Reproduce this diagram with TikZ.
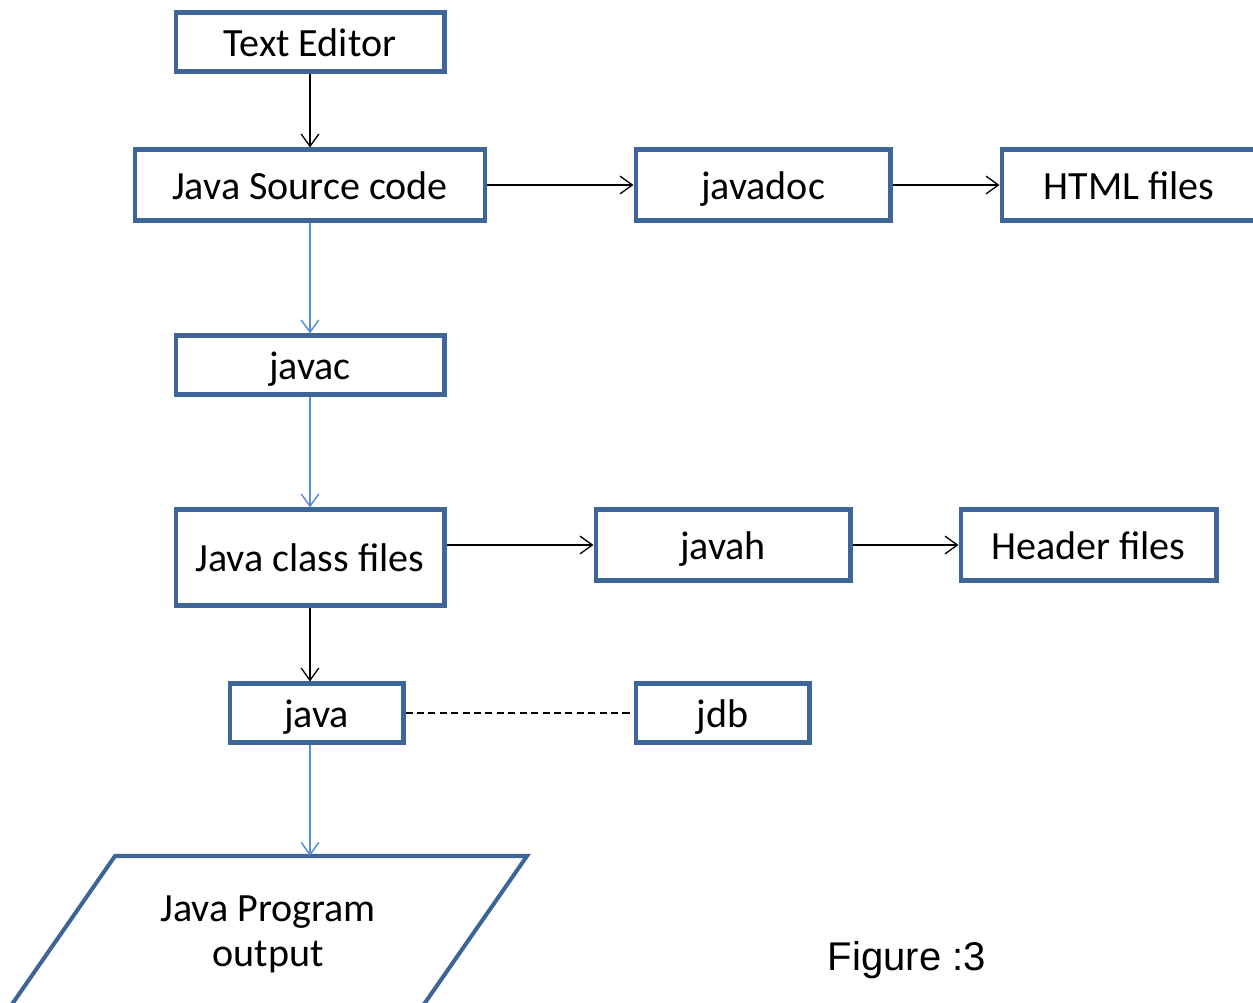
\documentclass[tikz,border=0pt]{standalone}
\usepackage{fontspec}
\setmainfont{Carlito}
\newfontfamily\figfont{Liberation Sans}
\usetikzlibrary{arrows.meta}
\definecolor{boxblue}{HTML}{3E6597}
\definecolor{arrblue}{RGB}{91,143,212}
\begin{document}
\begin{tikzpicture}[x=0.02cm,y=-0.02cm,
  box/.style={draw=boxblue,line width=2.3pt,fill=white,rectangle,inner sep=0pt,
    text height=16pt,text depth=0pt,
    font=\fontsize{22.8}{27}\selectfont},
  blackarr/.style={draw=black,line width=0.75pt,-{Straight Barb[length=7pt,width=10pt]}},
  bluearr/.style={draw=arrblue,line width=0.85pt,-{Straight Barb[length=7pt,width=10pt]}},
  dashline/.style={draw=black,line width=0.75pt,dash pattern=on 4pt off 2.5pt}]
\clip (0,0) rectangle (1253,1003);
\fill[white] (0,0) rectangle (1253,1003);

\node[box,minimum width=5.38cm,minimum height=1.18cm] (te) at (310,42) {Text Editor};
\node[box,minimum width=7.02cm,minimum height=1.42cm] (jsc) at (310,185) {Java Source code};
\node[box,minimum width=5.10cm,minimum height=1.42cm] (jdoc) at (763,185) {javadoc};
\node[box,minimum width=5.10cm,minimum height=1.42cm] (html) at (1129,185) {HTML files};
\node[box,minimum width=5.38cm,minimum height=1.18cm] (javac) at (310,365) {javac};
\node[box,minimum width=5.38cm,minimum height=1.92cm] (jcf) at (310,557.5) {Java class files};
\node[box,minimum width=5.10cm,minimum height=1.42cm] (javah) at (723,545) {javah};
\node[box,minimum width=5.12cm,minimum height=1.42cm] (hdr) at (1088.5,545) {Header files};
\node[box,minimum width=3.48cm,minimum height=1.18cm] (java) at (316.5,713) {java};
\node[box,minimum width=3.48cm,minimum height=1.18cm] (jdb) at (722.5,713) {jdb};

% output parallelogram
\draw[boxblue,line width=2.3pt,line join=miter] (115,856) -- (527,856) -- (420,1010) -- (8,1010) -- cycle;
\coordinate (outtop) at (310,856);
\node[align=center,inner sep=0pt,font=\fontsize{22.8}{25.5}\selectfont] (out) at (268,934) {Java Program\\output};

\node[inner sep=0pt,font=\figfont\fontsize{22.8}{26}\selectfont] (fig) at (907,960) {Figure :3};

% connectors
\draw[blackarr] (te.south) -- (jsc.north);
\draw[blackarr] (jsc.east) -- (jdoc.west);
\draw[blackarr] (jdoc.east) -- (html.west);
\draw[bluearr] (jsc.south) -- (javac.north);
\draw[bluearr] (javac.south) -- (jcf.north);
\draw[blackarr] (jcf.east |- javah.west) -- (javah.west);
\draw[blackarr] (javah.east) -- (hdr.west);
\draw[blackarr] (jcf.south) -- (jcf.south |- java.north);
\draw[dashline] (java.east) -- (jdb.west);
\draw[bluearr] (java.south -| jcf.south) -- (outtop);
\end{tikzpicture}
\end{document}
